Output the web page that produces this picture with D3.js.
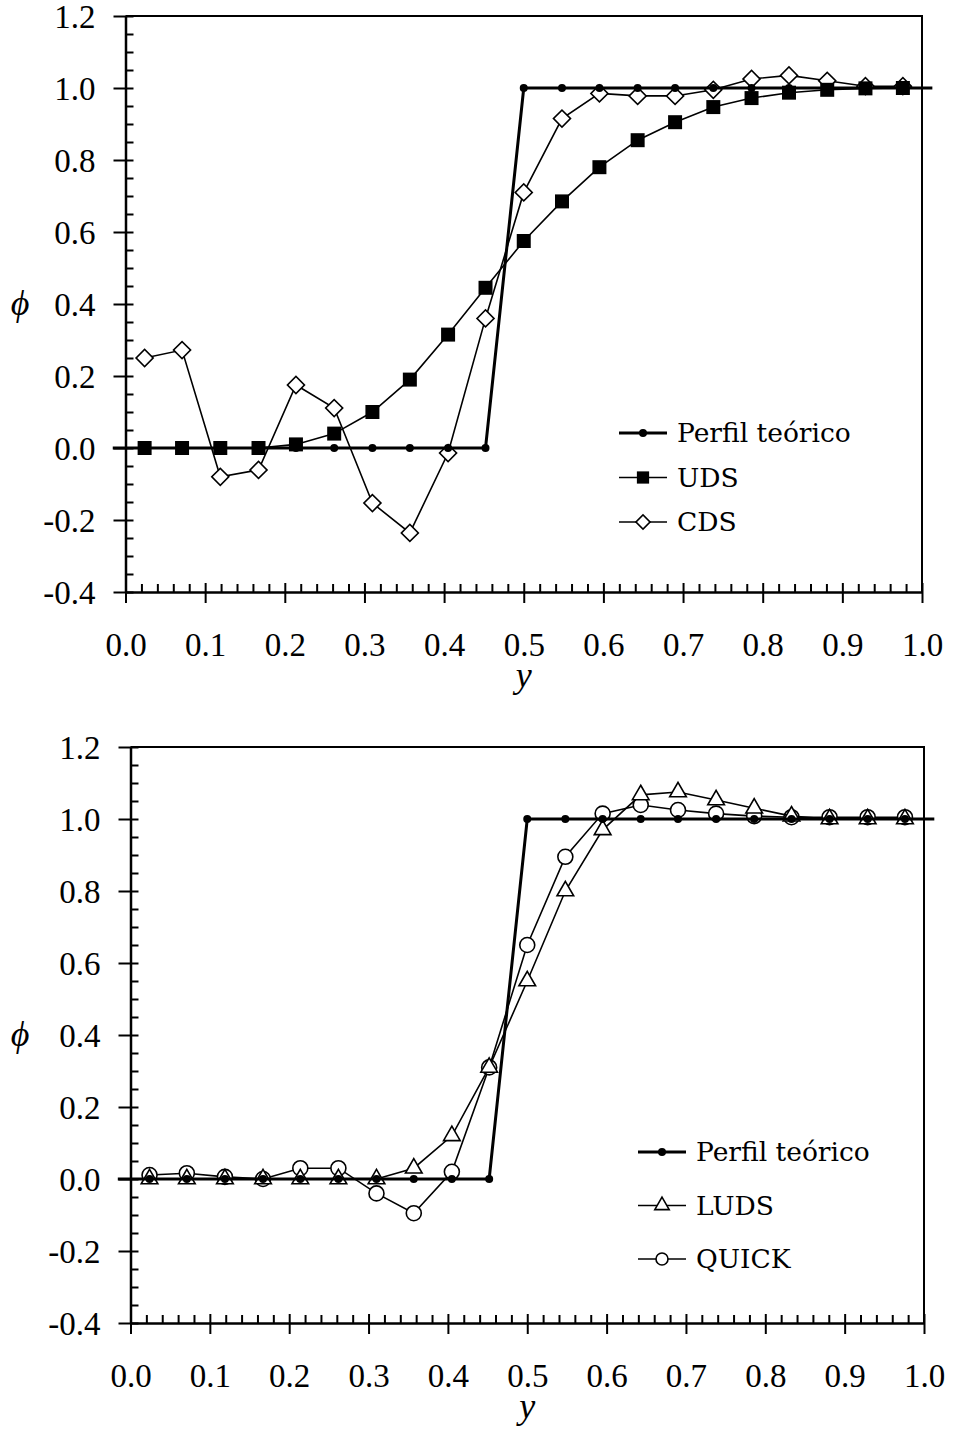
<!DOCTYPE html>
<html>
<head>
<meta charset="utf-8">
<script src="https://cdn.jsdelivr.net/npm/d3@7"></script>
<style>
  body { margin: 0; background: #fff; }
  svg { display: block; }
  .tick text { font-family: "Liberation Serif", serif; font-size: 33px; fill: #000; }
  .lbl { font-family: "Liberation Serif", serif; font-style: italic; font-size: 36px; }
  .leg { font-family: "DejaVu Serif", serif; font-size: 26.5px; }
</style>
</head>
<body>
<svg id="chart" width="955" height="1430"></svg>
<script>
// cell centres (21 control volumes)
const nodesY = [0.024, 0.071, 0.119, 0.167, 0.214, 0.262, 0.310, 0.357, 0.405, 0.452, 0.500,
                0.548, 0.595, 0.643, 0.690, 0.738, 0.786, 0.833, 0.881, 0.929, 0.976];

const perfil = [0, 0, 0, 0, 0, 0, 0, 0, 0, 0, 1, 1, 1, 1, 1, 1, 1, 1, 1, 1, 1];
const perfilEdges = [-0.016, 1.013];   // ends of the theoretical line

const uds  = [0, 0, 0, 0, 0.01, 0.04, 0.10, 0.19, 0.315, 0.445, 0.575,
              0.685, 0.78, 0.855, 0.905, 0.947, 0.972, 0.987, 0.995, 0.999, 1.0];
const cds  = [0.25, 0.272, -0.08, -0.061, 0.175, 0.111, -0.153, -0.236, -0.014, 0.36, 0.71,
              0.915, 0.985, 0.978, 0.978, 0.995, 1.025, 1.035, 1.02, 1.005, 1.005];
const luds = [0, 0, 0, 0, 0, 0, 0, 0.03, 0.12, 0.31, 0.55,
              0.80, 0.97, 1.067, 1.075, 1.053, 1.03, 1.008, 1.0, 1.0, 1.0];
const quick = [0.011, 0.016, 0.006, 0, 0.03, 0.03, -0.04, -0.095, 0.02, 0.31, 0.65,
               0.895, 1.015, 1.039, 1.025, 1.015, 1.008, 1.005, 1.005, 1.005, 1.005];

const xMajor = [0, 0.1, 0.2, 0.3, 0.4, 0.5, 0.6, 0.7, 0.8, 0.9, 1.0];
const xMinor = d3.range(0, 1.0001, 0.02).filter(v => Math.abs(v * 10 - Math.round(v * 10)) > 1e-6);
const yMajor = [-0.4, -0.2, 0, 0.2, 0.4, 0.6, 0.8, 1.0, 1.2];
const yMinor = d3.range(-0.4, 1.2001, 0.05).filter(v => Math.abs(v * 5 - Math.round(v * 5)) > 1e-6);

const svg = d3.select("#chart");

function drawMarker(sel, type) {
  if (type === "dot") {
    sel.append("circle").attr("r", 4).attr("fill", "#000");
  } else if (type === "square") {
    sel.append("path").attr("d", d3.symbol(d3.symbolSquare, 196)()).attr("fill", "#000");
  } else if (type === "diamond") {
    sel.append("path").attr("d", d3.symbol(d3.symbolSquare, 145)())
      .attr("transform", "rotate(45)")
      .attr("fill", "#fff").attr("stroke", "#000").attr("stroke-width", 1.6);
  } else if (type === "triangle") {
    sel.append("path").attr("d", d3.symbol(d3.symbolTriangle, 120)())
      .attr("fill", "#fff").attr("stroke", "#000").attr("stroke-width", 1.6);
  } else if (type === "circle") {
    sel.append("circle").attr("r", 7.5)
      .attr("fill", "#fff").attr("stroke", "#000").attr("stroke-width", 1.6);
  }
}

function panel(cfg) {
  const x = d3.scaleLinear().domain([0, 1]).range(cfg.xr);
  const y = d3.scaleLinear().domain([-0.4, 1.2]).range(cfg.yr);
  const g = svg.append("g");

  // top and right frame
  g.append("path")
    .attr("d", `M${x(0)},${y(1.2)}H${x(1)}V${y(-0.4)}`)
    .attr("fill", "none").attr("stroke", "#000").attr("stroke-width", 2);

  // x axis
  const xa = g.append("g").attr("transform", `translate(0,${y(-0.4)})`)
    .call(d3.axisBottom(x).tickValues(xMajor).tickFormat(d3.format(".1f"))
      .tickSize(11).tickSizeOuter(0).tickPadding(30));
  xa.select(".domain").attr("stroke-width", 2.5);
  xa.selectAll(".tick line").attr("y1", -9).attr("stroke-width", 2);
  g.append("g").attr("transform", `translate(0,${y(-0.4)})`)
    .call(d3.axisBottom(x).tickValues(xMinor).tickFormat("").tickSize(-8).tickSizeOuter(0))
    .call(a => a.select(".domain").remove())
    .selectAll(".tick line").attr("stroke-width", 2);

  // y axis
  const ya = g.append("g").attr("transform", `translate(${x(0)},0)`)
    .call(d3.axisLeft(y).tickValues(yMajor).tickFormat(d3.format(".1f"))
      .tickSize(12).tickSizeOuter(0).tickPadding(18));
  ya.select(".domain").attr("stroke-width", 2.5);
  ya.selectAll(".tick line").attr("x1", 8).attr("stroke-width", 2);
  ya.selectAll(".tick text").attr("dy", "0.36em")
    .text(d => d3.format(".1f")(d).replace("−", "-"));
  g.append("g").attr("transform", `translate(${x(0)},0)`)
    .call(d3.axisLeft(y).tickValues(yMinor).tickFormat("").tickSize(-8).tickSizeOuter(0))
    .call(a => a.select(".domain").remove())
    .selectAll(".tick line").attr("stroke-width", 2);

  // axis titles
  g.append("text").attr("class", "lbl").attr("x", 20).attr("y", y(0.4) + 11)
    .attr("text-anchor", "middle").text("ϕ");
  g.append("text").attr("class", "lbl").attr("x", x(0.5)).attr("y", y(-0.4) + 95)
    .attr("text-anchor", "middle").text("y");

  const line = d3.line().x(d => x(d[0])).y(d => y(d[1]));

  // series
  cfg.series.forEach(s => {
    const pts = nodesY.map((v, i) => [v, s.values[i]]);
    g.append("path").datum(pts).attr("d", line)
      .attr("fill", "none").attr("stroke", "#000").attr("stroke-width", 1.6);
    g.selectAll(null).data(pts).enter().append("g")
      .attr("transform", d => `translate(${x(d[0])},${y(d[1])})`)
      .each(function () { drawMarker(d3.select(this), s.marker); });
  });

  // theoretical profile on top
  const tp = [[perfilEdges[0], perfil[0]]]
    .concat(nodesY.map((v, i) => [v, perfil[i]]))
    .concat([[perfilEdges[1], perfil[perfil.length - 1]]]);
  g.append("path").datum(tp).attr("d", line)
    .attr("fill", "none").attr("stroke", "#000").attr("stroke-width", 3);
  g.selectAll(null).data(nodesY.map((v, i) => [v, perfil[i]])).enter().append("g")
    .attr("transform", d => `translate(${x(d[0])},${y(d[1])})`)
    .each(function () { drawMarker(d3.select(this), "dot"); });

  // legend
  const lg = g.append("g").attr("transform", `translate(${cfg.legend.x},${cfg.legend.y})`);
  cfg.legend.items.forEach((it, i) => {
    const row = lg.append("g").attr("transform", `translate(0,${i * cfg.legend.dy})`);
    row.append("line").attr("x1", 0).attr("x2", 48)
      .attr("stroke", "#000").attr("stroke-width", it.marker === "dot" ? 3 : 1.6);
    const m = row.append("g").attr("transform", "translate(24,0)");
    drawMarker(m, it.marker);
    if (it.marker === "square") m.select("path").attr("d", d3.symbol(d3.symbolSquare, 150)());
    if (it.marker === "circle") m.select("circle").attr("r", 6);
    if (it.marker === "triangle") m.select("path").attr("d", d3.symbol(d3.symbolTriangle, 90)());
    if (it.marker === "diamond") m.select("path").attr("d", d3.symbol(d3.symbolSquare, 100)());
    row.append("text").attr("class", "leg").attr("x", 58).attr("y", 9).text(it.name);
  });
}

panel({
  xr: [125.5, 922], yr: [592, 16],
  series: [
    { values: cds, marker: "diamond" },
    { values: uds, marker: "square" }
  ],
  legend: { x: 619, y: 433, dy: 44.5, items: [
    { name: "Perfil teórico", marker: "dot" },
    { name: "UDS", marker: "square" },
    { name: "CDS", marker: "diamond" }
  ] }
});

panel({
  xr: [130.5, 924], yr: [1323, 747],
  series: [
    { values: quick, marker: "circle" },
    { values: luds, marker: "triangle" }
  ],
  legend: { x: 638, y: 1152, dy: 53.5, items: [
    { name: "Perfil teórico", marker: "dot" },
    { name: "LUDS", marker: "triangle" },
    { name: "QUICK", marker: "circle" }
  ] }
});
</script>
</body>
</html>
